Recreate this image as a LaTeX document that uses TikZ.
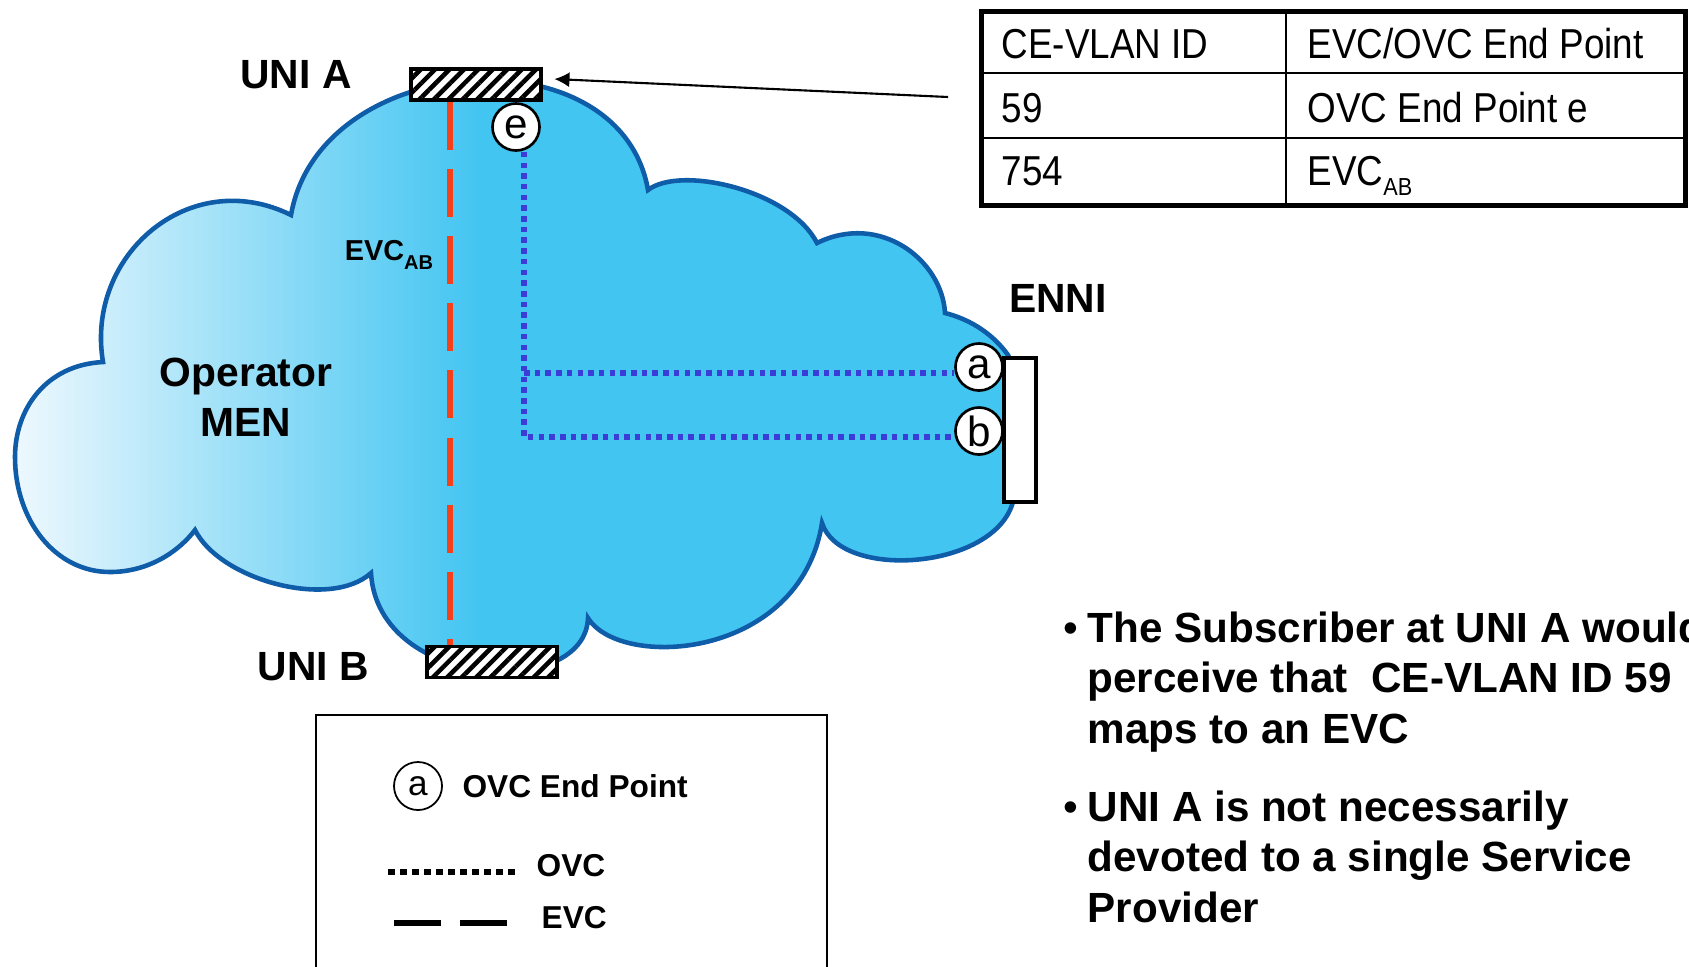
\documentclass[tikz,border=0pt]{standalone}
\usepackage{fontspec}
\setmainfont{Liberation Sans}
\newfontfamily\tablefont[FakeStretch=0.88]{Liberation Sans}
\usetikzlibrary{positioning,arrows.meta,patterns.meta}
\definecolor{cloudBlue}{HTML}{42C5F1}
\definecolor{cloudLight}{HTML}{EEF8FE}
\definecolor{cloudEdge}{HTML}{0F5CA8}
\definecolor{evcRed}{HTML}{F5401A}
\definecolor{ovcBlue}{HTML}{3C3CD6}

% outline of the operator cloud (pixel units, y downwards)
\newcommand{\cloudpath}{(648,190) .. controls (620,30) and (320,50) .. (291,215)
  .. controls (190,165) and (85,255) .. (103,362)
  .. controls (45,365) and (15,410) .. (15,457)
  .. controls (15,520) and (55,572) .. (110,572)
  .. controls (150,572) and (180,550) .. (195,530)
  .. controls (220,580) and (330,610) .. (371,573)
  .. controls (378,690) and (585,700) .. (588,618)
  .. controls (620,670) and (800,660) .. (822,523)
  .. controls (840,580) and (990,570) .. (1012,505)
  -- (1020,480) -- (1020,380) -- (1008,355)
  .. controls (990,330) and (965,318) .. (945,313)
  .. controls (942,260) and (880,212) .. (817,243)
  .. controls (790,190) and (680,165) .. (648,190) -- cycle}
\newcommand{\evcsub}[2]{EVC\raisebox{-#2}{\fontsize{#1}{#1}\selectfont AB}}

\begin{document}
\begin{tikzpicture}[
    x=0.01cm, y=-0.01cm,
    tag/.style={inner sep=0pt, font=\fontsize{11.6}{14.3}\selectfont\bfseries},
    unibox/.style={
        rectangle, draw, line width=0.9pt,
        minimum width=1.3cm, minimum height=0.31cm, inner sep=0pt,
        preaction={fill=white},
        pattern={Lines[angle=45,distance=2.9pt,line width=1.3pt]}
    },
    ennibox/.style={
        rectangle, draw, fill=white, line width=0.9pt,
        minimum width=0.32cm, minimum height=1.44cm, inner sep=0pt
    },
    endpt/.style={
        circle, draw, fill=white, line width=0.75pt,
        minimum size=0.47cm, inner sep=0pt, font=\fontsize{12}{12}\selectfont
    },
    evc/.style={draw=evcRed, line width=0.065cm, dash pattern=on 0.48cm off 0.19cm},
    ovc/.style={draw=ovcBlue, line width=0.055cm, dash pattern=on 0.055cm off 0.052cm},
    cell/.style={anchor=base west, inner sep=0pt, font=\tablefont\fontsize{11.9}{14}\selectfont},
    legtext/.style={anchor=west, inner sep=0pt, font=\fontsize{9}{11}\selectfont\bfseries},
    bullettext/.style={anchor=north west, inner sep=0pt, align=left,
        font=\fontsize{12}{14.4}\selectfont\bfseries},
    pointer/.style={-{Latex[length=4.3pt,width=4.3pt]}, line width=0.6pt}
]
  \clip (0,0) rectangle (1689,966);

  % Operator cloud with its fading left side
  \fill[cloudBlue] \cloudpath;
  \begin{scope}
    \clip \cloudpath;
    \shade[left color=cloudLight, right color=cloudBlue] (15,80) rectangle (480,700);
  \end{scope}
  \draw[cloudEdge, line width=1.3pt] \cloudpath;

  % UNIs, ENNI and OVC end points
  \node[unibox] (uniA) at (476,84.5) {};
  \node[unibox] (uniB) at (492,662) {};
  \node[ennibox] (enni) at (1020,430) {};
  \node[endpt] (epe) at (516,127) {e};
  \node[endpt] (epa) at (979,367) {a};
  \node[endpt] (epb) at (979,431) {b};

  % EVC from UNI A to UNI B
  \coordinate (evcx) at (450,0);
  \draw[evc] (uniA.south -| evcx) -- (uniB.north -| evcx);

  % OVC from e to the ENNI end points
  \coordinate (ovcA) at (524,373);
  \coordinate (ovcB) at (524,437);
  \draw[ovc] (epe.south -| ovcB) -- (ovcB) -- (epb.west |- ovcB);
  \draw[ovc] (ovcA) -- (epa.west |- ovcA);

  % Labels
  \node[tag] (uniAlbl) at (296,75) {UNI A};
  \node[tag] (uniBlbl) at (313.5,667) {UNI B};
  \node[tag] (ennilbl) at (1058,298) {ENNI};
  \node[tag, align=center] (men) at (246,397) {Operator\\MEN};
  \node[inner sep=0pt, font=\fontsize{8.2}{9}\selectfont\bfseries] (evclbl) at (389,255) {\evcsub{5.7pt}{2.7pt}};

  % CE-VLAN ID map at UNI A
  \node[draw, line width=1.4pt, inner sep=0pt, minimum width=7.04cm, minimum height=1.935cm,
        anchor=north west] (tbl) at (979,9) {};
  \coordinate (rowA) at (979,73);
  \coordinate (rowB) at (979,138);
  \coordinate (colA) at (1286,9);
  \draw[line width=0.6pt] (rowA) -- (rowA -| tbl.east);
  \draw[line width=0.6pt] (rowB) -- (rowB -| tbl.east);
  \draw[line width=0.6pt] (colA) -- (colA |- tbl.south);
  \node[cell] (hdrVlan) at (1001,58) {CE-VLAN ID};
  \node[cell] (hdrEnd) at (1307,58) {EVC/OVC End Point};
  \node[cell] (vlan59) at (1001,122) {59};
  \node[cell] (end59) at (1307,122) {OVC End Point e};
  \node[cell] (vlan754) at (1001,185) {754};
  \node[cell] (end754) at (1307,185) {\evcsub{7pt}{3pt}};

  \coordinate (tblTip) at (948,97);
  \draw[pointer] (tblTip) -- ([shift={(11,-5.5)}]uniA.east);

  % Legend
  \node[draw, line width=0.6pt, inner sep=0pt, minimum width=5.11cm, minimum height=3cm,
        anchor=north west] (legend) at (315,714) {};
  \node[circle, draw, line width=0.5pt, minimum size=0.48cm, inner sep=0pt,
        font=\fontsize{10}{10}\selectfont] (lgA) at (418,786) {a};
  \node[legtext, right=0.19cm of lgA] (lgAtxt) {OVC End Point};
  \coordinate (ovcL) at (388,872);
  \coordinate (ovcR) at (515,872);
  \draw[line width=0.055cm, dash pattern=on 0.065cm off 0.055cm] (ovcL) -- (ovcR);
  \node[legtext] (lgOvc) at (536,866) {OVC};
  \coordinate (evcL) at (394,923);
  \coordinate (evcR) at (507,923);
  \draw[line width=0.065cm, dash pattern=on 0.47cm off 0.19cm] (evcL) -- (evcR);
  \node[legtext] (lgEvc) at (541,918) {EVC};

  % Notes
  \node[bullettext] (note1) at (1087,611)
      {\makebox[0pt][r]{{\mdseries\textbullet}\hspace{0.09cm}}The Subscriber at UNI A would\\
       perceive that\ \ CE-VLAN ID 59\\maps to an EVC};
  \node[bullettext] (note2) at (1087,790)
      {\makebox[0pt][r]{{\mdseries\textbullet}\hspace{0.09cm}}UNI A is not necessarily\\
       devoted to a single Service\\Provider};
\end{tikzpicture}
\end{document}
